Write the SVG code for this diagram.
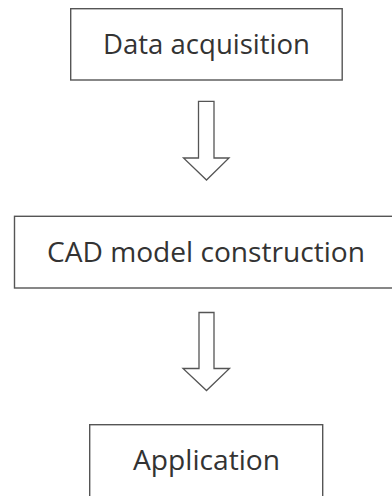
<svg xmlns="http://www.w3.org/2000/svg" width="392" height="496" viewBox="0 0 392 496">
<style>
.box{fill:#fff;stroke:#555;stroke-width:1.4}
.arr{fill:#fff;stroke:#555;stroke-width:1.3;stroke-linejoin:miter}
.lbl{font-family:"Open Sans","Liberation Sans",sans-serif;font-size:27.5px;fill:#333;text-anchor:middle}
</style>
<rect width="392" height="496" fill="#fff"/>
<g id="node-data">
<rect class="box" x="70.7" y="8.7" width="271.5" height="71.3"/>
<text class="lbl" x="206.5" y="54" textLength="207" lengthAdjust="spacingAndGlyphs">Data acquisition</text>
</g>
<g id="node-cad">
<rect class="box" x="14.5" y="216.3" width="390" height="71.7"/>
<text class="lbl" x="206" y="262" textLength="318" lengthAdjust="spacingAndGlyphs">CAD model construction</text>
</g>
<g id="node-app">
<rect class="box" x="89.7" y="424.7" width="233" height="90"/>
<text class="lbl" x="206.5" y="470" textLength="147" lengthAdjust="spacingAndGlyphs">Application</text>
</g>
<g id="connectors">
<polygon class="arr" points="198.5,101.3 214,101.3 214,158 229,158 206.5,180 183.5,158 198.5,158"/>
<polygon class="arr" points="199,312.5 214,312.5 214,368.5 229.5,368.5 206.5,390.5 183,368.5 199,368.5"/>
</g>
</svg>
